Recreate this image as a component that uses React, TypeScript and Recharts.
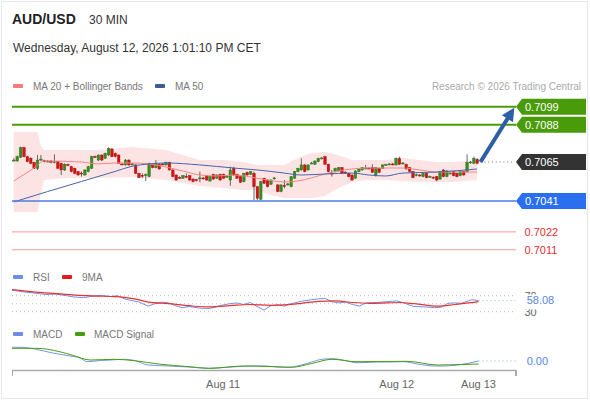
import React from 'react';
import { ComposedChart, Bar, Line, Area, XAxis, YAxis, ReferenceLine } from 'recharts';

const FONT = '"Liberation Sans", Arial, Helvetica, sans-serif';

// 30-min candles: [open, high, low, close]
const candles: [number, number, number, number][] = [
  [0.70658,0.70673,0.70652,0.70662],[0.70656,0.70690,0.70652,0.70683],[0.70679,0.70744,0.70675,0.70738],[0.70738,0.70744,0.70679,0.70683],
  [0.70683,0.70688,0.70648,0.70652],[0.70673,0.70679,0.70636,0.70642],[0.70648,0.70652,0.70607,0.70611],[0.70611,0.70693,0.70601,0.70662],
  [0.70664,0.70693,0.70656,0.70668],[0.70658,0.70664,0.70648,0.70654],[0.70654,0.70662,0.70648,0.70656],[0.70656,0.70662,0.70642,0.70648],
  [0.70650,0.70697,0.70642,0.70652],[0.70652,0.70656,0.70607,0.70611],[0.70642,0.70646,0.70570,0.70601],[0.70601,0.70642,0.70595,0.70636],
  [0.70634,0.70640,0.70625,0.70630],[0.70621,0.70627,0.70586,0.70591],[0.70611,0.70615,0.70574,0.70580],[0.70591,0.70595,0.70566,0.70570],
  [0.70582,0.70591,0.70560,0.70578],[0.70570,0.70605,0.70566,0.70601],[0.70591,0.70627,0.70586,0.70621],[0.70611,0.70688,0.70607,0.70683],
  [0.70683,0.70690,0.70675,0.70681],[0.70662,0.70697,0.70656,0.70693],[0.70693,0.70697,0.70656,0.70662],[0.70673,0.70708,0.70668,0.70703],
  [0.70693,0.70740,0.70688,0.70734],[0.70730,0.70736,0.70679,0.70683],[0.70703,0.70708,0.70679,0.70683],[0.70693,0.70697,0.70638,0.70642],
  [0.70638,0.70644,0.70630,0.70636],[0.70632,0.70668,0.70627,0.70662],[0.70662,0.70666,0.70627,0.70632],[0.70636,0.70644,0.70630,0.70638],
  [0.70632,0.70636,0.70576,0.70580],[0.70580,0.70584,0.70550,0.70554],[0.70568,0.70580,0.70550,0.70564],[0.70568,0.70580,0.70533,0.70572],
  [0.70560,0.70646,0.70556,0.70642],[0.70636,0.70640,0.70611,0.70615],[0.70615,0.70662,0.70611,0.70642],[0.70636,0.70640,0.70603,0.70607],
  [0.70638,0.70644,0.70630,0.70634],[0.70632,0.70652,0.70627,0.70648],[0.70648,0.70652,0.70597,0.70601],[0.70601,0.70605,0.70556,0.70560],
  [0.70570,0.70574,0.70535,0.70539],[0.70556,0.70562,0.70546,0.70552],[0.70550,0.70570,0.70546,0.70566],[0.70562,0.70580,0.70552,0.70558],
  [0.70566,0.70570,0.70535,0.70539],[0.70545,0.70550,0.70525,0.70529],[0.70541,0.70546,0.70531,0.70537],[0.70548,0.70591,0.70525,0.70552],
  [0.70552,0.70558,0.70542,0.70548],[0.70566,0.70570,0.70535,0.70539],[0.70533,0.70564,0.70529,0.70560],[0.70574,0.70578,0.70541,0.70545],
  [0.70550,0.70574,0.70546,0.70570],[0.70574,0.70578,0.70535,0.70539],[0.70574,0.70578,0.70546,0.70550],[0.70558,0.70566,0.70552,0.70562],
  [0.70539,0.70621,0.70504,0.70601],[0.70611,0.70621,0.70566,0.70570],[0.70574,0.70578,0.70546,0.70550],[0.70560,0.70564,0.70521,0.70525],
  [0.70529,0.70584,0.70525,0.70580],[0.70586,0.70591,0.70566,0.70570],[0.70574,0.70595,0.70570,0.70591],[0.70580,0.70591,0.70416,0.70498],
  [0.70498,0.70503,0.70416,0.70427],[0.70421,0.70535,0.70416,0.70529],[0.70550,0.70554,0.70515,0.70519],[0.70539,0.70543,0.70494,0.70498],
  [0.70513,0.70543,0.70509,0.70539],[0.70548,0.70558,0.70542,0.70552],[0.70509,0.70513,0.70464,0.70468],[0.70468,0.70513,0.70464,0.70509],
  [0.70506,0.70539,0.70488,0.70502],[0.70511,0.70521,0.70505,0.70515],[0.70498,0.70564,0.70494,0.70560],[0.70550,0.70595,0.70546,0.70591],
  [0.70591,0.70615,0.70586,0.70611],[0.70601,0.70673,0.70597,0.70632],[0.70632,0.70636,0.70586,0.70591],[0.70601,0.70636,0.70597,0.70632],
  [0.70640,0.70650,0.70636,0.70644],[0.70636,0.70660,0.70632,0.70656],[0.70652,0.70677,0.70648,0.70673],[0.70671,0.70681,0.70666,0.70675],
  [0.70683,0.70688,0.70632,0.70636],[0.70636,0.70640,0.70586,0.70591],[0.70582,0.70601,0.70560,0.70578],[0.70591,0.70615,0.70586,0.70611],
  [0.70595,0.70619,0.70591,0.70615],[0.70615,0.70619,0.70576,0.70580],[0.70588,0.70593,0.70580,0.70584],[0.70580,0.70584,0.70556,0.70560],
  [0.70570,0.70574,0.70535,0.70539],[0.70550,0.70599,0.70546,0.70595],[0.70591,0.70611,0.70586,0.70607],[0.70601,0.70619,0.70597,0.70615],
  [0.70609,0.70632,0.70605,0.70613],[0.70613,0.70617,0.70605,0.70609],[0.70615,0.70636,0.70582,0.70586],[0.70570,0.70619,0.70560,0.70615],
  [0.70611,0.70615,0.70582,0.70586],[0.70611,0.70636,0.70607,0.70632],[0.70630,0.70640,0.70625,0.70634],[0.70634,0.70644,0.70630,0.70638],
  [0.70638,0.70644,0.70630,0.70636],[0.70632,0.70677,0.70627,0.70673],[0.70671,0.70683,0.70632,0.70636],[0.70640,0.70650,0.70636,0.70644],
  [0.70636,0.70640,0.70603,0.70607],[0.70615,0.70619,0.70586,0.70591],[0.70591,0.70595,0.70550,0.70554],[0.70568,0.70578,0.70562,0.70572],
  [0.70570,0.70576,0.70560,0.70566],[0.70560,0.70584,0.70556,0.70580],[0.70580,0.70584,0.70550,0.70554],[0.70558,0.70566,0.70552,0.70562],
  [0.70556,0.70562,0.70546,0.70552],[0.70560,0.70564,0.70531,0.70539],[0.70545,0.70595,0.70541,0.70591],[0.70601,0.70605,0.70556,0.70560],
  [0.70560,0.70599,0.70556,0.70595],[0.70578,0.70588,0.70574,0.70582],[0.70591,0.70595,0.70562,0.70566],[0.70580,0.70584,0.70556,0.70560],
  [0.70566,0.70595,0.70562,0.70591],[0.70591,0.70595,0.70566,0.70570],[0.70591,0.70697,0.70586,0.70648],[0.70646,0.70656,0.70640,0.70650],
  [0.70642,0.70683,0.70638,0.70673],[0.70666,0.70673,0.70636,0.70642],
];

// Bollinger bands: [slot, lower, upper]
const bandPoints: [number, number, number][] = [
  [0,0.70342,0.70835],[7,0.70342,0.70835],[8,0.70447,0.70755],[9,0.70539,0.70724],[15,0.70552,0.70724],
  [25,0.70552,0.70724],[35,0.70558,0.70742],[45,0.70539,0.70724],[55,0.70502,0.70662],[62,0.70490,0.70662],
  [68,0.70478,0.70650],[72,0.70478,0.70632],[76,0.70447,0.70632],[80,0.70428,0.70632],[84,0.70428,0.70675],
  [88,0.70428,0.70705],[92,0.70441,0.70712],[96,0.70490,0.70693],[100,0.70527,0.70662],[105,0.70539,0.70662],
  [110,0.70539,0.70662],[115,0.70533,0.70675],[120,0.70527,0.70662],[125,0.70527,0.70650],[130,0.70527,0.70650],
  [137,0.70539,0.70662],
];
const ma20Points: [number, number][] = [
  [0,0.70533],[6,0.70613],[9,0.70656],[20,0.70650],[25,0.70638],[30,0.70644],[35,0.70644],[40,0.70638],
  [45,0.70619],[50,0.70595],[55,0.70570],[60,0.70564],[65,0.70570],[70,0.70558],[75,0.70539],[80,0.70527],
  [84,0.70533],[88,0.70552],[92,0.70576],[96,0.70595],[100,0.70607],[105,0.70613],[115,0.70613],[120,0.70601],
  [125,0.70588],[130,0.70588],[137,0.70588],
];
const ma50Points: [number, number][] = [
  [0,0.70404],[10,0.70468],[20,0.70530],[30,0.70592],[35,0.70624],[40,0.70638],[45,0.70644],[55,0.70632],
  [65,0.70613],[72,0.70601],[80,0.70582],[85,0.70570],[92,0.70576],[100,0.70582],[105,0.70570],[110,0.70564],
  [115,0.70582],[125,0.70588],[137,0.70607],
];
const rsiPoints: [number, number][] = [
  [0,84],[3,80],[5,78],[7,76],[10,73],[13,74],[16,70],[18,67],[21,65],[24,69],[26,71],[29,68],[31,70],[33,62],
  [35,58],[37,55],[40,44],[42,50],[44,54],[46,52],[48,45],[50,40],[52,43],[55,39],[58,38],[60,42],[62,47],[64,50],
  [66,52],[68,48],[70,53],[72,43],[74,34],[76,45],[78,47],[80,44],[82,50],[85,56],[88,60],[90,62],[92,63],[94,55],
  [96,52],[98,54],[100,48],[102,44],[104,52],[107,53],[110,55],[113,57],[115,52],[118,43],[121,42],[124,40],[126,41],
  [128,51],[130,52],[132,51],[134,57],[135,60],[136,59],[137,58.08],
];
const rsiMaPoints: [number, number][] = [
  [0,85],[7,79],[15,74],[22,70],[25,69],[29,68],[33,66],[36,62],[40,54],[46,50],[52,45],[58,42],[64,45],[70,48],
  [76,46],[80,47],[85,51],[90,56],[95,57],[100,53],[105,51],[110,52],[114,53],[118,50],[122,46],[125,44],[130,48],
  [134,52],[137,55],
];
const macdPoints: [number, number][] = [
  [0,0.000274],[3,0.000274],[7,0.000234],[12,0.00016],[17,0.0001],[20,0.00006],[22,-0.000014],[26,0.00001],
  [29,0.00002],[33,0.000034],[36,0.00001],[40,-0.00008],[46,-0.0001],[52,-0.00012],[58,-0.000146],[62,-0.00013],
  [66,-0.000114],[70,-0.0001],[74,-0.0001],[78,-0.00012],[81,-0.000126],[85,-0.00008],[88,-0.00002],[91,0.000034],
  [94,0.000046],[98,0.00001],[101,-0.000034],[104,-0.00003],[107,-0.00002],[111,-0.00002],[115,-0.000014],
  [119,-0.00006],[124,-0.0001],[127,-0.0001],[130,-0.000086],[134,-0.000046],[137,0],
];
const signalPoints: [number, number][] = [
  [0,0.000254],[7,0.000254],[14,0.000186],[18,0.00011],[23,0.00002],[30,0.000034],[36,0.000006],[43,-0.00006],
  [52,-0.000114],[58,-0.000146],[68,-0.0001],[76,-0.00011],[82,-0.000126],[88,-0.00005],[94,0.000034],
  [101,-0.000014],[108,-0.00001],[116,-0.000006],[125,-0.00008],[132,-0.00007],[137,-0.00006],
];
const dateTicks: [number, string][] = [[62, 'Aug 11'], [113, 'Aug 12'], [137, 'Aug 13']];
const resistanceLevels = [0.7099, 0.7088];
const pivotLevel = 0.7065;
const supportLevels = [0.7041, 0.7022, 0.7011];
const arrowTarget = 0.70984;
const rsiGuides = [70, 30];
const SLOTS = 149;

type Row = { [k: string]: any };
const rows: Row[] = Array.from({ length: SLOTS }, (_, i) => ({ i }));
candles.forEach(([o, h, l, c], i) => Object.assign(rows[i], { o, h, l, c, range: [l, h] }));
bandPoints.forEach(([i, lo, hi]) => (rows[i].band = [lo, hi]));
ma20Points.forEach(([i, v]) => (rows[i].ma20 = v));
ma50Points.forEach(([i, v]) => (rows[i].ma50 = v));
rsiPoints.forEach(([i, v]) => (rows[i].rsi = v));
rsiMaPoints.forEach(([i, v]) => (rows[i].rsiMa = v));
macdPoints.forEach(([i, v]) => (rows[i].macd = v));
signalPoints.forEach(([i, v]) => (rows[i].signal = v));

const lastSlot = candles.length - 1;
const lastRsi = rsiPoints[rsiPoints.length - 1][1];
const lastMacd = macdPoints[macdPoints.length - 1][1];
const tickLabel: Record<number, string> = Object.fromEntries(dateTicks);

const Candle = (props: any) => {
  const { x, y, width, height, payload } = props;
  if (!payload || payload.o == null || !isFinite(y)) return <g />;
  const { o, h, l, c } = payload;
  const top = Math.min(y, y + height);
  const hh = Math.abs(height);
  const cx = x + width / 2;
  const k = h - l > 0 ? hh / (h - l) : 0;
  const yO = top + (h - o) * k;
  const yC = top + (h - c) * k;
  const up = c >= o;
  const bTop = Math.min(yO, yC);
  const bH = Math.max(Math.abs(yC - yO), 1);
  return (
    <g>
      <line x1={cx} x2={cx} y1={top} y2={top + hh} stroke="#444" strokeWidth={0.8} />
      <rect x={cx - 1.3} y={bTop} width={2.6} height={bH} fill={up ? '#33901e' : '#d41414'} stroke={up ? '#2a6e18' : '#a80e0e'} strokeWidth={0.4} />
    </g>
  );
};

const Tag = ({ vb, text, fill, dx = 0 }: any) => {
  if (!vb) return null;
  const x = vb.x + vb.width + dx;
  const y = vb.y;
  const h = 8;
  return (
    <g>
      <path d={`M${x},${y} L${x + 6},${y - h} L${x + 70},${y - h} L${x + 70},${y + h} L${x + 6},${y + h} Z`} fill={fill} />
      <text x={x + 9} y={y + 4} fill="#fff" fontSize={11} fontFamily={FONT}>{text}</text>
    </g>
  );
};

const PlainLabel = ({ vb, text, color, dx = 8.5, bg = false }: any) => {
  if (!vb) return null;
  const x = vb.x + vb.width + dx;
  const y = vb.y;
  return (
    <g>
      {bg && <rect x={x - 3} y={y - 6} width={40} height={15} fill="#fff" />}
      <text x={x} y={y + 4} fill={color} fontSize={11} fontFamily={FONT}>{text}</text>
    </g>
  );
};

const Arrow = (p: any) => {
  const { x1, y1, x2, y2 } = p;
  if (![x1, y1, x2, y2].every((v) => isFinite(v))) return <g />;
  const dx = x2 - x1, dy = y2 - y1;
  const len = Math.hypot(dx, dy) || 1;
  const ux = dx / len, uy = dy / len;
  const hl = 13, hw = 6.5;
  const bx = x2 - ux * hl, by = y2 - uy * hl;
  return (
    <g>
      <line x1={x1} y1={y1} x2={bx + ux * 2} y2={by + uy * 2} stroke="#2d5fa6" strokeWidth={4} />
      <path d={`M${x2},${y2} L${bx - uy * hw},${by + ux * hw} L${bx + uy * hw},${by - ux * hw} Z`} fill="#2d5fa6" />
    </g>
  );
};

const MARGIN_X = { left: 12, right: 74 };

export default function App() {
  return (
    <div style={{ position: 'absolute', left: 0, top: 0, width: 590, height: 400, background: '#fff', overflow: 'hidden', fontFamily: FONT }}>
      <div style={{ position: 'absolute', left: 1, top: 1, width: 587, height: 398, boxSizing: 'border-box', border: '1px solid #e4e9ef' }} />

      {/* Price panel */}
      <div style={{ position: 'absolute', left: 0, top: 0 }}>
        <ComposedChart width={590} height={270} data={rows} margin={{ top: 95.375, bottom: 5.625, ...MARGIN_X }}>
          <XAxis dataKey="i" hide />
          <YAxis hide domain={[0.7002, 0.7106]} allowDataOverflow />
          <Area dataKey="band" type="linear" fill="#fde4e4" fillOpacity={1} stroke="none" connectNulls dot={false} activeDot={false} isAnimationActive={false} />
          <Line dataKey="ma20" type="monotone" stroke="#f58484" strokeWidth={1} dot={false} connectNulls isAnimationActive={false} />
          <Line dataKey="ma50" type="monotone" stroke="#4466aa" strokeWidth={1} dot={false} connectNulls isAnimationActive={false} />
          <Bar dataKey="range" shape={<Candle />} isAnimationActive={false} />
          {resistanceLevels.map((v) => (
            <ReferenceLine key={v} y={v} stroke="#4a9b0a" strokeWidth={2}
              label={(p: any) => <Tag vb={p.viewBox} text={v.toFixed(4)} fill="#4a9b0a" />} />
          ))}
          <ReferenceLine y={supportLevels[0]} stroke="#4a7ee0" strokeWidth={1.5}
            label={(p: any) => <Tag vb={p.viewBox} text={supportLevels[0].toFixed(4)} fill="#2a6ff0" />} />
          {supportLevels.slice(1).map((v) => (
            <ReferenceLine key={v} y={v} stroke="#f29a9a" strokeWidth={1}
              label={(p: any) => <PlainLabel vb={p.viewBox} text={v.toFixed(4)} color="#e3302c" />} />
          ))}
          <ReferenceLine segment={[{ x: lastSlot + 1, y: pivotLevel }, { x: SLOTS - 1, y: pivotLevel }]} stroke="#888" strokeDasharray="1.2 2.6" strokeWidth={1}
            label={(p: any) => <Tag vb={p.viewBox} text={pivotLevel.toFixed(4)} fill="#333" dx={1.7} />} />
          <ReferenceLine segment={[{ x: lastSlot + 1, y: pivotLevel }, { x: SLOTS - 1, y: arrowTarget }]} shape={<Arrow />} />
        </ComposedChart>
      </div>

      {/* RSI panel */}
      <div style={{ position: 'absolute', left: 0, top: 280 }}>
        <ComposedChart width={590} height={48} data={rows} margin={{ top: 3.7, bottom: 4.3, ...MARGIN_X }}>
          <XAxis dataKey="i" hide />
          <YAxis hide domain={[0, 100]} allowDataOverflow />
          {rsiGuides.map((v) => (
            <ReferenceLine key={v} y={v} stroke="#b8b8b8" strokeDasharray="1 3"
              label={(p: any) => <PlainLabel vb={p.viewBox} text={String(v)} color="#666" />} />
          ))}
          <ReferenceLine segment={[{ x: 0, y: 50 }, { x: lastSlot, y: 50 }]} stroke="#c4c4c4" strokeDasharray="1 3" />
          <Line dataKey="rsi" type="linear" stroke="#7090e8" strokeWidth={1} dot={false} connectNulls isAnimationActive={false} />
          <Line dataKey="rsiMa" type="monotone" stroke="#e83232" strokeWidth={1.2} dot={false} connectNulls isAnimationActive={false} />
          <ReferenceLine segment={[{ x: lastSlot, y: lastRsi }, { x: SLOTS - 1, y: lastRsi }]} stroke="#9fb2df" strokeDasharray="1 3"
            label={(p: any) => <PlainLabel vb={p.viewBox} text={lastRsi.toFixed(2)} color="#5b85e6" dx={10.7} bg />} />
        </ComposedChart>
      </div>

      {/* MACD panel + time axis */}
      <div style={{ position: 'absolute', left: 0, top: 330 }}>
        <ComposedChart width={590} height={70} data={rows} margin={{ top: 11, bottom: 9.5, ...MARGIN_X }}>
          <XAxis dataKey="i" height={20} ticks={dateTicks.map((t) => t[0])} interval={0}
            tickFormatter={(v: any) => tickLabel[v] ?? ''} tickLine={false} tickSize={6} tickMargin={4}
            axisLine={{ stroke: '#aaa', strokeWidth: 1.5 }} tick={{ fill: '#666', fontSize: 11, fontFamily: FONT }} />
          <YAxis hide domain={[-0.00019, 0.0004]} allowDataOverflow />
          <Line dataKey="macd" type="monotone" stroke="#7396ea" strokeWidth={1} dot={false} connectNulls isAnimationActive={false} />
          <Line dataKey="signal" type="monotone" stroke="#4b9b12" strokeWidth={1} dot={false} connectNulls isAnimationActive={false} />
          <ReferenceLine segment={[{ x: lastSlot, y: lastMacd }, { x: SLOTS - 1, y: lastMacd }]} stroke="#8fa8e6" strokeDasharray="1 3"
            label={(p: any) => <PlainLabel vb={p.viewBox} text={lastMacd.toFixed(2)} color="#5b85e6" dx={10.7} />} />
        </ComposedChart>
      </div>
      <div style={{ position: 'absolute', left: 11.5, top: 370, width: 1.5, height: 6, background: '#aaa' }} />
      <div style={{ position: 'absolute', left: 515, top: 370, width: 1.5, height: 6, background: '#aaa' }} />

      {/* Header and legends */}
      <svg width={590} height={400} style={{ position: 'absolute', left: 0, top: 0, pointerEvents: 'none' }}>
        <text x={12} y={24} fontSize={14} fontWeight="bold" fill="#222" fontFamily={FONT}>AUD/USD</text>
        <text x={89} y={24} fontSize={12} fill="#333" fontFamily={FONT}>30 MIN</text>
        <text x={13} y={52} fontSize={12} fill="#333" fontFamily={FONT}>Wednesday, August 12, 2026 1:01:10 PM CET</text>

        <rect x={13} y={84} width={10} height={4} rx={1} fill="#f77b7b" />
        <text x={33} y={89.5} fontSize={10} fill="#777" fontFamily={FONT}>MA 20 + Bollinger Bands</text>
        <rect x={155} y={84} width={10} height={4} rx={1} fill="#3c5a99" />
        <text x={175} y={89.5} fontSize={10} fill="#777" fontFamily={FONT}>MA 50</text>
        <text x={581} y={89.5} fontSize={10} fill="#aaa" textAnchor="end" fontFamily={FONT}>Research © 2026 Trading Central</text>

        <rect x={13} y={275} width={10} height={4} rx={1} fill="#6b8ee8" />
        <text x={33} y={280.5} fontSize={10} fill="#777" fontFamily={FONT}>RSI</text>
        <rect x={62} y={275} width={10} height={4} rx={1} fill="#e51c1c" />
        <text x={82} y={280.5} fontSize={10} fill="#777" fontFamily={FONT}>9MA</text>

        <rect x={13} y={332} width={10} height={4} rx={1} fill="#6b8ee8" />
        <text x={33} y={337.5} fontSize={10} fill="#777" fontFamily={FONT}>MACD</text>
        <rect x={75} y={332} width={10} height={4} rx={1} fill="#4a9a12" />
        <text x={94} y={337.5} fontSize={10} fill="#777" fontFamily={FONT}>MACD Signal</text>
      </svg>
    </div>
  );
}
